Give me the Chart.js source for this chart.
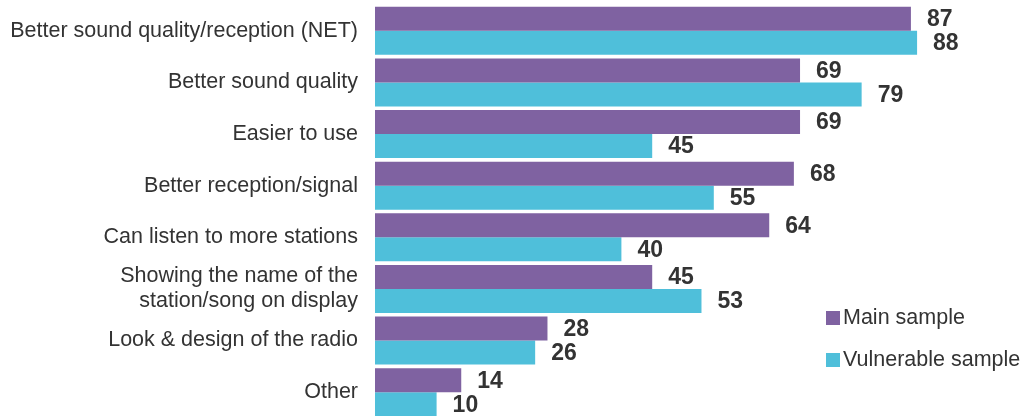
<!DOCTYPE html>
<html>
<head>
<meta charset="utf-8">
<script src="https://cdn.jsdelivr.net/npm/chart.js@4.4.1/dist/chart.umd.min.js"></script>
<style>
  html, body { margin: 0; padding: 0; background: #ffffff; overflow: hidden; }
  #wrap { position: absolute; left: 0; top: 0; width: 1027px; height: 418px; }
</style>
</head>
<body>
<div id="wrap"><canvas id="chart"></canvas></div>
<script>
// Reasons given for preferring the radio, % of respondents
const categories = [
  'Better sound quality/reception (NET)',
  'Better sound quality',
  'Easier to use',
  'Better reception/signal',
  'Can listen to more stations',
  ['Showing the name of the', 'station/song on display'],
  'Look & design of the radio',
  'Other'
];
const mainSample = [87, 69, 69, 68, 64, 45, 28, 14];
const vulnerableSample = [88, 79, 45, 55, 40, 53, 26, 10];
const seriesNames = ['Main sample', 'Vulnerable sample'];
const seriesColors = ['#7F62A1', '#4FBFDA'];

const FONT = "'Liberation Sans', Arial, sans-serif";
const TEXT = '#333333';

// Numbers printed just past the end of each bar
const valueLabels = {
  id: 'valueLabels',
  afterDatasetsDraw(chart) {
    const ctx = chart.ctx;
    ctx.save();
    ctx.font = 'bold 23px ' + FONT;
    ctx.fillStyle = TEXT;
    ctx.textAlign = 'left';
    ctx.textBaseline = 'middle';
    chart.data.datasets.forEach((ds, i) => {
      chart.getDatasetMeta(i).data.forEach((bar, j) => {
        ctx.fillText(String(ds.data[j]), bar.x + 16, bar.y + 1);
      });
    });
    ctx.restore();
  }
};

// Square-swatch key in the lower right
const sideLegend = {
  id: 'sideLegend',
  afterDraw(chart) {
    const ctx = chart.ctx;
    ctx.save();
    ctx.font = '21.5px ' + FONT;
    ctx.textAlign = 'left';
    ctx.textBaseline = 'middle';
    const rows = [318, 360];
    chart.data.datasets.forEach((ds, i) => {
      ctx.fillStyle = ds.backgroundColor;
      ctx.fillRect(826, rows[i] - 7, 14, 14);
      ctx.fillStyle = TEXT;
      ctx.fillText(ds.label, 843, rows[i]);
    });
    ctx.restore();
  }
};

new Chart(document.getElementById('chart'), {
  type: 'bar',
  data: {
    labels: categories,
    datasets: [
      { label: seriesNames[0], data: mainSample, backgroundColor: seriesColors[0] },
      { label: seriesNames[1], data: vulnerableSample, backgroundColor: seriesColors[1] }
    ]
  },
  options: {
    indexAxis: 'y',
    responsive: true,
    maintainAspectRatio: false,
    animation: false,
    layout: { padding: { top: 5, right: 36, bottom: 0, left: 0 } },
    datasets: {
      bar: { categoryPercentage: 0.93, barPercentage: 1.0, borderWidth: 0 }
    },
    scales: {
      x: { min: 0, max: 100, display: false },
      y: {
        afterFit(scale) {
          scale.width = 375;
          scale.paddingTop = 0;
          scale.paddingBottom = 0;
        },
        grid: { display: false, drawTicks: false },
        border: { display: false },
        ticks: {
          autoSkip: false,
          padding: 17,
          color: TEXT,
          font: { family: FONT, size: 21.5, lineHeight: 1.15 }
        }
      }
    },
    plugins: {
      legend: { display: false },
      tooltip: { enabled: false }
    }
  },
  plugins: [valueLabels, sideLegend]
});
</script>
</body>
</html>
